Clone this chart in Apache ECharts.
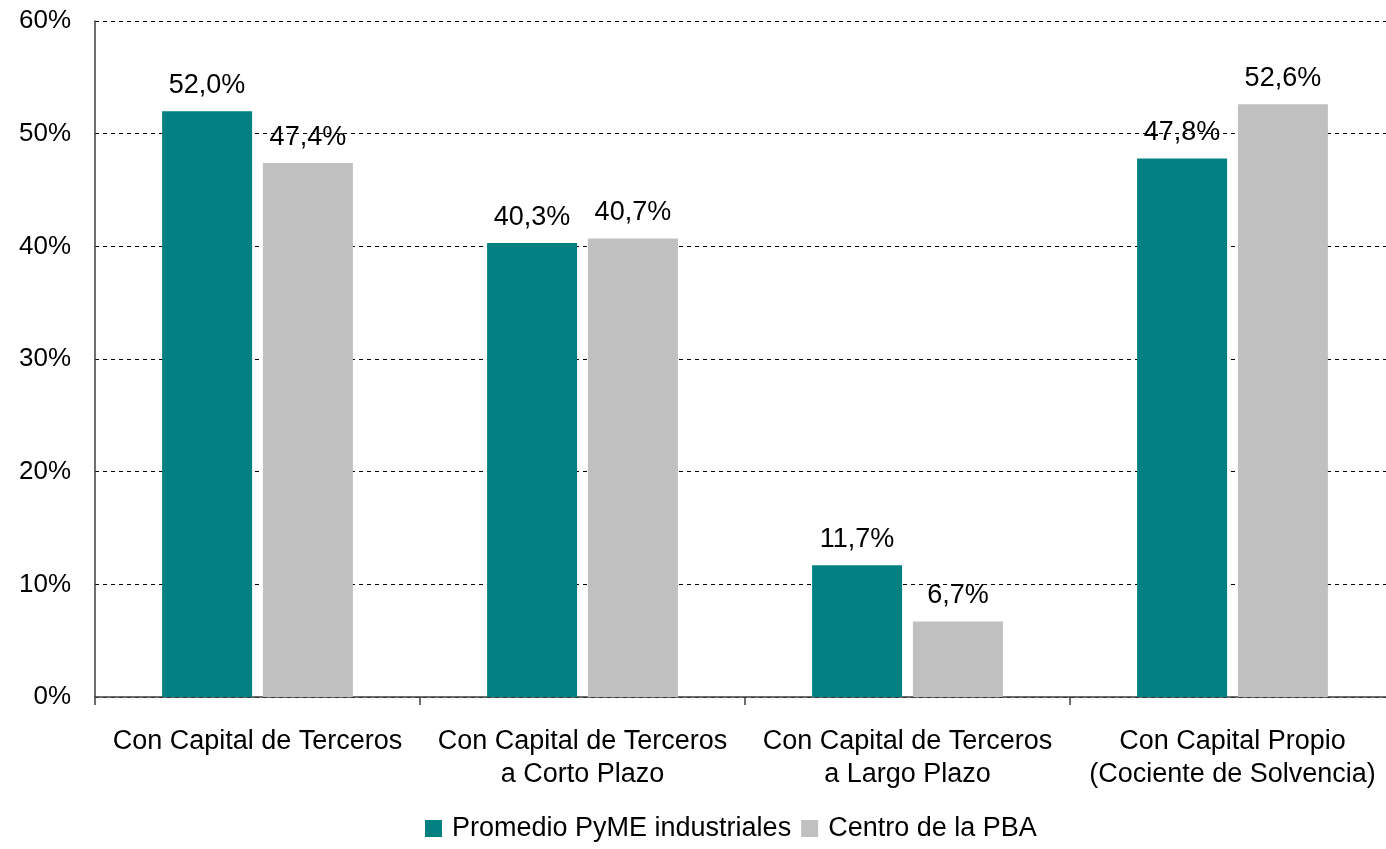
<!DOCTYPE html>
<html>
<head>
<meta charset="utf-8">
<script src="https://cdn.jsdelivr.net/npm/echarts@6/dist/echarts.min.js"></script>
<style>
  html, body { margin: 0; padding: 0; background: #fff; }
  #chart { width: 1386px; height: 849px; }
</style>
</head>
<body>
<div id="chart"></div>
<script>
// categorías del eje x
const categories = [
  'Con Capital de Terceros',
  'Con Capital de Terceros\na Corto Plazo',
  'Con Capital de Terceros\na Largo Plazo',
  'Con Capital Propio\n(Cociente de Solvencia)'
]
const seriesNames = ['Promedio PyME industriales', 'Centro de la PBA']
const pymeValues = [52.0, 40.3, 11.7, 47.8]
const centroValues = [47.4, 40.7, 6.7, 52.6]
const colors = ['#008080', '#C0C0C0']

const font = 'Arial, "Liberation Sans", sans-serif'

// etiqueta con coma decimal
const fmt = v => v.toFixed(1).replace('.', ',') + '%'

const chart = echarts.init(document.getElementById('chart'), null, { renderer: 'canvas' })

const barLabel = {
  show: true,
  position: 'top',
  distance: 12,
  fontSize: 27,
  color: '#000',
  fontFamily: font,
  formatter: p => fmt(p.value)
}

const option = {
  animation: false,
  textStyle: { fontFamily: font },
  grid: {
    left: 95,
    top: 21,
    width: 1300,
    height: 676,
    outerBoundsMode: 'none'
  },
  legend: {
    bottom: 2,
    left: 420,
    itemWidth: 17,
    itemHeight: 17,
    itemGap: 10,
    icon: 'rect',
    textStyle: { fontSize: 27, color: '#000', fontFamily: font, padding: [0, 0, 0, 5] },
    data: seriesNames
  },
  xAxis: {
    type: 'category',
    data: categories,
    axisLine: { lineStyle: { color: '#404040', width: 1.5 } },
    axisTick: { show: true, interval: 0, length: 8, lineStyle: { color: '#404040', width: 1.5 } },
    axisLabel: {
      interval: 0,
      fontSize: 27,
      color: '#000',
      margin: 28,
      lineHeight: 33,
      fontFamily: font
    }
  },
  yAxis: {
    type: 'value',
    min: 0,
    max: 60,
    interval: 10,
    axisLine: { show: true, lineStyle: { color: '#404040', width: 1.5 } },
    axisTick: { show: false },
    axisLabel: {
      fontSize: 26,
      color: '#000',
      margin: 24,
      formatter: '{value}%',
      fontFamily: font
    },
    splitLine: {
      show: true,
      lineStyle: { color: '#000', type: [4, 4], width: 1 }
    }
  },
  series: [
    {
      name: seriesNames[0],
      type: 'bar',
      data: pymeValues,
      barWidth: 90,
      barGap: '12%',
      itemStyle: { color: colors[0] },
      label: barLabel
    },
    {
      name: seriesNames[1],
      type: 'bar',
      data: centroValues,
      barWidth: 90,
      barGap: '12%',
      itemStyle: { color: colors[1] },
      label: barLabel
    }
  ]
}

chart.setOption(option)
</script>
</body>
</html>
